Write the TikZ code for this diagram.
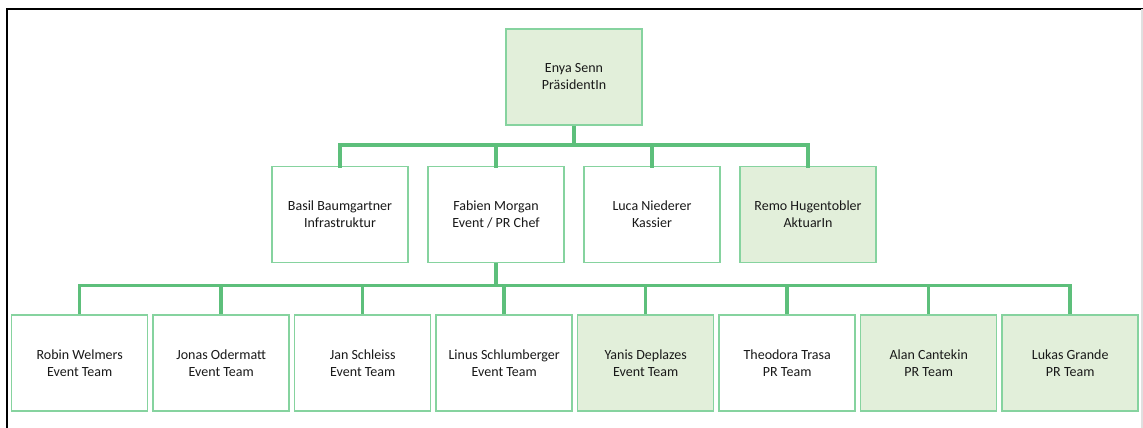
\documentclass[tikz,border=0pt]{standalone}
\usepackage{fontspec}
\setmainfont{Carlito}
\definecolor{boxline}{HTML}{86D39F}
\definecolor{conn}{HTML}{5DBF7B}
\definecolor{boxfill}{HTML}{E2EFDA}
\begin{document}
\begin{tikzpicture}[x=1pt,y=-1pt,
  person/.style={draw=boxline,line width=1.5pt,minimum width=136pt,minimum height=96pt,inner sep=0pt,align=center,text=black!90,font=\fontsize{14}{17}\selectfont},
  hl/.style={fill=boxfill},
  link/.style={draw=conn,line width=3.5pt}]
\useasboundingbox (0,0) rectangle (1143,428);
\fill[white] (0,0) rectangle (1143,428);
\draw[black,line width=2pt] (7,428) -- (7,9) -- (1143,9);
\draw[black!12,line width=1.5pt] (1142,9) -- (1142,428);
% top
\node[person,hl] (enya) at (574,77) {Enya Senn\\PräsidentIn};
% level 2
\node[person] (basil) at (340,214.5) {Basil Baumgartner\\Infrastruktur};
\node[person] (fabien) at (496,214.5) {Fabien Morgan\\Event / PR Chef};
\node[person] (luca) at (652,214.5) {Luca Niederer\\Kassier};
\node[person,hl] (remo) at (808,214.5) {Remo Hugentobler\\AktuarIn};
% level 3
\node[person] (robin) at (79.7,363) {Robin Welmers\\Event Team};
\node[person] (jonas) at (221.2,363) {Jonas Odermatt\\Event Team};
\node[person] (jan) at (362.7,363) {Jan Schleiss\\Event Team};
\node[person] (linus) at (504.2,363) {Linus Schlumberger\\Event Team};
\node[person,hl] (yanis) at (645.7,363) {Yanis Deplazes\\Event Team};
\node[person] (theo) at (787.2,363) {Theodora Trasa\\PR Team};
\node[person,hl] (alan) at (928.7,363) {Alan Cantekin\\PR Team};
\node[person,hl] (lukas) at (1070.2,363) {Lukas Grande\\PR Team};
% connectors level 1-2
\coordinate (b1) at (574,145);
\draw[link] (enya.south) -- (b1);
\foreach \n in {basil,fabien,luca,remo}{
  \draw[link,line cap=rect] (b1) -| (\n.north);
}
% connectors level 2-3
\coordinate (b2) at (496,285.5);
\draw[link] (fabien.south) -- (b2);
\foreach \n in {robin,jonas,jan,linus,yanis,theo,alan,lukas}{
  \draw[link] (b2) -| (\n.north);
}
\end{tikzpicture}
\end{document}
